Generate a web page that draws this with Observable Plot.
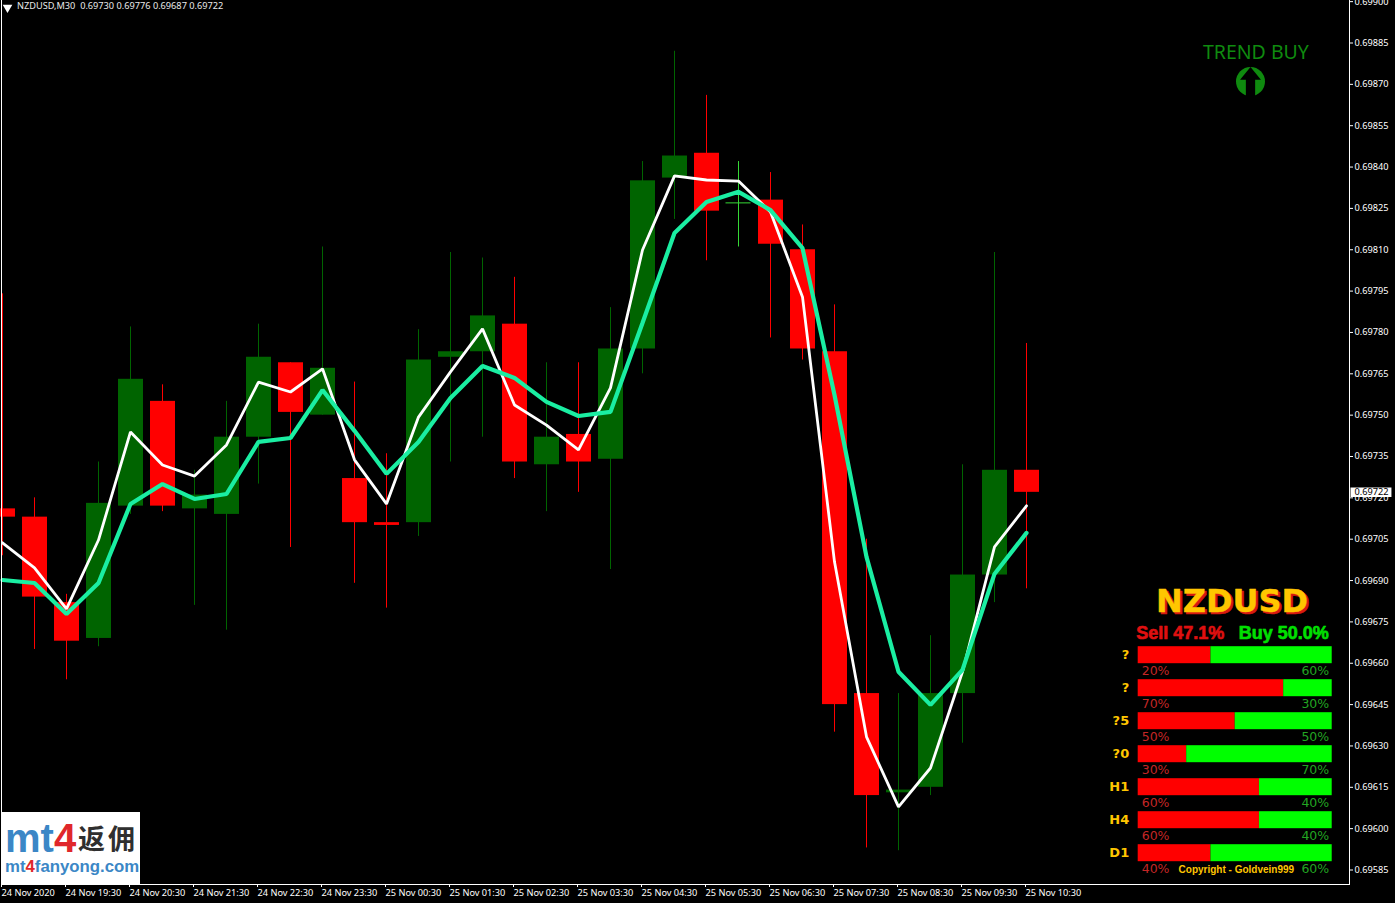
<!DOCTYPE html>
<html><head><meta charset="utf-8">
<script src="https://cdn.jsdelivr.net/npm/d3@7"></script>
<script src="https://cdn.jsdelivr.net/npm/@observablehq/plot@0.6"></script>
<style>
html,body{margin:0;padding:0;background:#000;overflow:hidden}
#wrap{position:relative;width:1395px;height:903px}
#wrap svg{position:absolute;left:0;top:0;display:block}
#logo{position:absolute;left:2px;top:812px;width:138px;height:72px;background:#fff}
#logo .a{position:absolute;left:3px;top:6px;font:700 40px/40px "Liberation Sans";color:#3b87c6;white-space:nowrap}
#logo .a b{color:#e0272b}
#logo .c{position:absolute;left:76px;top:12px;font:700 27px/28px "Noto Sans CJK SC";letter-spacing:3px;color:#2f2f2f;white-space:nowrap}
#logo .b{position:absolute;left:3px;top:45px;font:700 16.8px/20px "Liberation Sans";color:#3b87c6;white-space:nowrap}
#logo .b b{color:#e0272b}
</style></head><body>
<div id="wrap"></div>
<script>
const open = [.69716,.69713,.69682,.69669,.69717,.69755,.69716,.69714,.69742,.69769,.69750,.69727,.69711,.69711,.69771,.69773,.69783,.69732,.69743,.69734,.69774,.69836,.69845,.69827,.69828,.69810,.69773,.69649,.69613,.69615,.69649,.69692,.69730];
const high = [.69794,.69720,.69685,.69733,.69782,.69761,.69730,.69755,.69783,.69769,.69811,.69762,.69736,.69781,.69809,.69807,.69800,.69769,.69769,.69789,.69842,.69882,.69866,.69842,.69838,.69819,.69790,.69705,.69649,.69670,.69732,.69809,.69776];
const low = [.69699,.69665,.69654,.69666,.69714,.69715,.69681,.69672,.69725,.69702,.69750,.69689,.69680,.69706,.69733,.69742,.69727,.69715,.69722,.69694,.69765,.69821,.69806,.69811,.69778,.69770,.69635,.69593,.69592,.69612,.69631,.69682,.69687];
const close = [.69713,.69684,.69668,.69718,.69763,.69717,.69721,.69742,.69771,.69751,.69767,.69711,.69710,.69770,.69773,.69786,.69733,.69742,.69733,.69774,.69835,.69844,.69824,.69827,.69812,.69774,.69645,.69612,.69614,.69649,.69692,.69730,.69722];
const fastMA = [.697037,.696946,.696797,.697047,.697439,.697319,.697279,.697392,.697620,.697584,.697668,.697338,.697178,.697493,.697657,.697813,.697537,.697464,.697374,.697599,.698099,.698368,.698353,.698349,.698237,.697929,.696968,.696333,.696079,.696220,.696569,.697022,.697171];
const slowMA = [.696902,.696891,.696779,.696891,.697178,.697250,.697196,.697214,.697403,.697417,.697591,.697443,.697287,.697403,.697562,.697678,.697635,.697548,.697497,.697512,.697834,.698161,.698273,.698310,.698244,.698106,.697573,.696986,.696569,.696449,.696576,.696924,.697073];
const timeLabels = ["24 Nov 2020","24 Nov 19:30","24 Nov 20:30","24 Nov 21:30","24 Nov 22:30","24 Nov 23:30","25 Nov 00:30","25 Nov 01:30","25 Nov 02:30","25 Nov 03:30","25 Nov 04:30","25 Nov 05:30","25 Nov 06:30","25 Nov 07:30","25 Nov 08:30","25 Nov 09:30","25 Nov 10:30"];
const priceTicks = [.69585,.696,.69615,.6963,.69645,.6966,.69675,.6969,.69705,.6972,.69735,.6975,.69765,.6978,.69795,.6981,.69825,.6984,.69855,.6987,.69885,.699];
const headerText = "NZDUSD,M30  0.69730 0.69776 0.69687 0.69722";
const lastPrice = 0.69722;
const rowLabels = ["?","?","?5","?0","H1","H4","D1"];
const barShare = [37.5,75,50,25,62.5,62.5,37.5];
const sellPct = [20,70,50,30,60,60,40];
const buyPct = [60,30,50,70,40,40,60];

const RED="#ff0000", GREEN="#006400", LIME="#35d835", TEAL="#1aeea2", GOLD="#ffc600", TREND="#0f8a0f";
const candles = open.map((o,i)=>({i,o,h:high[i],l:low[i],c:close[i]}));
const colorOf = d => d.c===d.o ? LIME : d.c>d.o ? GREEN : RED;
const half = 12.5/32, nudge = 0.5/32;
const axisFont = "Noto Sans";

const arrowSymbol = {draw(ctx,size){
  const r=Math.sqrt(size/Math.PI);
  ctx.moveTo(0,-r); ctx.lineTo(.72*r,-.12*r); ctx.lineTo(.32*r,-.12*r);
  ctx.lineTo(.32*r,1.1*r); ctx.lineTo(-.32*r,1.1*r); ctx.lineTo(-.32*r,-.12*r); ctx.lineTo(-.72*r,-.12*r); ctx.closePath();
}};

const main = Plot.plot({
  width:1395, height:903,
  marginLeft:1, marginRight:46, marginTop:0, marginBottom:19,
  style:{background:"#000", color:"#fff", fontFamily:axisFont, fontSize:"9.2px"},
  x:{domain:[0,41], range:[2,1314]},
  y:{domain:[.69585,.699], range:[869.5,1.15]},
  marks:[
    Plot.ruleX(candles,{x:"i",y1:"l",y2:"h",stroke:colorOf,strokeWidth:1}),
    Plot.rect(candles,{x1:d=>d.i-half+nudge,x2:d=>d.i+half+nudge,y1:"o",y2:"c",fill:colorOf}),
    Plot.ruleY(candles.filter(d=>d.c===d.o),{y:"o",x1:d=>d.i-half,x2:d=>d.i+half,stroke:LIME,strokeWidth:1}),
    Plot.line(fastMA,{x:(d,i)=>i,y:d=>d,stroke:"#fff",strokeWidth:2.8,strokeLinejoin:"miter"}),
    Plot.line(slowMA,{x:(d,i)=>i,y:d=>d,stroke:TEAL,strokeWidth:4.2,strokeLinejoin:"miter"}),
    Plot.frame({anchor:"left",stroke:"#fff"}),
    Plot.frame({anchor:"right",stroke:"#fff"}),
    Plot.frame({anchor:"bottom",stroke:"#fff"}),
    Plot.axisX({anchor:"bottom",ticks:timeLabels.map((_,k)=>k*2),tickFormat:d=>timeLabels[d/2],label:null,tickSize:3,tickPadding:2,textAnchor:"start",dx:-1,stroke:"#fff",fill:"#fff"}),
    Plot.axisY({anchor:"right",ticks:priceTicks,tickFormat:d=>d.toFixed(5),label:null,tickSize:3,tickPadding:2,stroke:"#fff",fill:"#fff"}),
    Plot.ruleY([lastPrice],{y:d=>d,x1:()=>42.14,x2:()=>43.42,stroke:"#fff",strokeWidth:9.5}),
    Plot.text([lastPrice],{x:()=>42.14,y:d=>d,text:d=>d.toFixed(5),dx:3.5,textAnchor:"start",fill:"#000"}),
    Plot.dot([0],{frameAnchor:"top-left",dx:6,dy:7,symbol:"triangle",rotate:180,r:3.6,fill:"#fff"}),
    Plot.text([headerText],{frameAnchor:"top-left",dx:15.5,dy:2,textAnchor:"start",lineAnchor:"top",fill:"#e8e8e8",fontSize:9.2}),
    Plot.text(["TREND BUY"],{x:()=>39.17,y:()=>.698815,fill:TREND,fontSize:19.5,fontFamily:"Noto Sans"}),
    Plot.dot([0],{x:()=>39,y:()=>.69871,r:14.5,fill:TREND,stroke:"none"}),
    Plot.dot([0],{x:()=>39,y:()=>.69871,r:14.5,symbol:arrowSymbol,fill:"#000",stroke:"none"})
  ]
});

const rows = rowLabels.map((label,i)=>({i,label,share:barShare[i],sell:sellPct[i],buy:buyPct[i]}));
const barHalf = 8.5/33;
const panel = Plot.plot({
  width:1395, height:903,
  marginLeft:0, marginRight:0, marginTop:0, marginBottom:0,
  style:{background:"transparent", fontFamily:"DejaVu Sans"},
  x:{domain:[0,100], range:[1137.7,1331.7], axis:null},
  y:{domain:[0,6], range:[654.7,852.7], axis:null},
  marks:[
    Plot.rect(rows,{x1:()=>0,x2:"share",y1:d=>d.i-barHalf,y2:d=>d.i+barHalf,fill:RED}),
    Plot.rect(rows,{x1:"share",x2:()=>100,y1:d=>d.i-barHalf,y2:d=>d.i+barHalf,fill:"#00ff00"}),
    Plot.text(rows,{x:()=>0,y:"i",text:"label",dx:-9,textAnchor:"end",fill:GOLD,fontWeight:700,fontSize:13}),
    Plot.text(rows,{x:()=>0,y:"i",text:d=>d.sell+"%",dx:3.5,dy:16,textAnchor:"start",fill:"#c42626",fontSize:12.5}),
    Plot.text(rows,{x:()=>100,y:"i",text:d=>d.buy+"%",dx:-3,dy:16,textAnchor:"end",fill:"#22a522",fontSize:12.5}),
    Plot.text(["NZDUSD"],{x:()=>48.6,y:()=>0,dx:1.5,dy:-51,fill:"#d81a10",stroke:"#d81a10",strokeWidth:.6,fontWeight:700,fontSize:32}),
    Plot.text(["NZDUSD"],{x:()=>48.6,y:()=>0,dx:-.5,dy:-53,fill:GOLD,stroke:GOLD,strokeWidth:.4,fontWeight:700,fontSize:32}),
    Plot.text(["Sell 47.1%"],{x:()=>0,y:()=>0,dx:-2,dy:-22,textAnchor:"start",fill:"#e01010",stroke:"#e01010",strokeWidth:.6,fontWeight:700,fontSize:18,fontFamily:"Liberation Sans"}),
    Plot.text(["Buy 50.0%"],{x:()=>100,y:()=>0,dx:-3.5,dy:-22,textAnchor:"end",fill:"#00e000",stroke:"#00e000",strokeWidth:.6,fontWeight:700,fontSize:18,fontFamily:"Liberation Sans"}),
    Plot.text(["Copyright - Goldvein999"],{x:()=>20.8,y:()=>6,dy:17,textAnchor:"start",fill:GOLD,fontWeight:700,fontSize:10,fontFamily:"Liberation Sans"})
  ]
});

const wrap = document.getElementById("wrap");
wrap.append(main, panel);
const logo = document.createElement("div");
logo.id="logo";
logo.innerHTML='<div class="a">mt<b>4</b></div><div class="c">返佣</div><div class="b">mt<b>4</b>fanyong.com</div>';
wrap.append(logo);
</script>
</body></html>
